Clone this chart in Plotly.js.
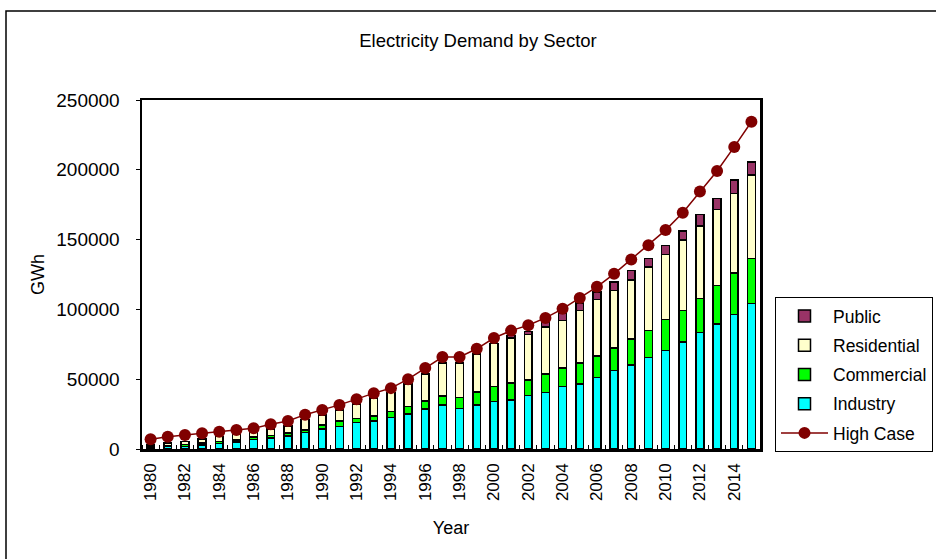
<!DOCTYPE html>
<html>
<head>
<meta charset="utf-8">
<script src="https://cdn.plot.ly/plotly-3.0.1.min.js"></script>
<style>html,body{margin:0;padding:0;background:#fff;}#chart{width:936px;height:559px;}</style>
</head>
<body>
<div id="chart"></div>
<script>
var years = [1980,1981,1982,1983,1984,1985,1986,1987,1988,1989,1990,1991,1992,1993,1994,1995,1996,1997,1998,1999,2000,2001,2002,2003,2004,2005,2006,2007,2008,2009,2010,2011,2012,2013,2014,2015];
var industry = [1000,1700,1900,3000,3800,5000,6800,8000,9300,11700,14400,16000,18900,20100,22500,25100,28700,31600,29000,31600,34000,35200,38300,40500,44800,46700,51200,56300,60300,65600,70600,76700,83600,89600,96300,104200];
var commercial = [500,700,1200,1200,1500,1500,1800,1800,2000,1900,2800,4100,3100,3600,4300,5300,5800,6500,7900,9100,10800,12000,11300,13200,13200,14900,15600,16000,18500,19400,22100,22400,24200,27700,29900,32300];
var residential = [1500,1800,2300,2800,3500,3800,4000,4600,5300,7700,7200,7900,10300,12700,13700,16100,19200,23500,24700,27300,30600,32300,32300,33700,34200,37500,40200,41200,42400,45200,46700,50500,51900,54400,56800,59600];
var publicSector = [0,0,0,0,0,0,0,0,0,0,0,0,0,0,0,0,0,0,0,0,0,1700,2400,4100,5300,5600,5300,6300,6500,6300,6400,6500,8200,7900,9700,9600];
var highCase = [7000,8800,10000,11200,12400,13600,14800,17700,20100,24600,28000,31600,35700,40000,43600,50000,58000,65900,65900,71800,79500,84800,88600,93900,100400,108200,116200,125500,135800,146000,156800,169300,184400,199200,216400,234400];
var yTicks = [0,50000,100000,150000,200000,250000];
var xTickYears = [1980,1982,1984,1986,1988,1990,1992,1994,1996,1998,2000,2002,2004,2006,2008,2010,2012,2014];

var FONT = 'Liberation Sans, Arial, sans-serif';
var edge = {color:'#000000', width:1.5};
function barTrace(name, y, color, rank){
  return {type:'bar', name:name, x:years, y:y, width:0.46,
    marker:{color:color, line:edge}, legendrank:rank, legendgroup:name,
    hoverinfo:'x+y+name'};
}
var traces = [
  barTrace('Industry', industry, '#00FFFF', 4),
  barTrace('Commercial', commercial, '#00FF00', 3),
  barTrace('Residential', residential, '#FFFFCC', 2),
  barTrace('Public', publicSector, '#993366', 1),
  {type:'scatter', mode:'lines+markers', name:'High Case', x:years, y:highCase,
   line:{color:'#800000', width:1.5}, marker:{color:'#800000', size:12},
   legendrank:5, legendgroup:'High Case'}
];

var plotL = 142, plotR = 760, plotT = 100, plotB = 449, W = 936, H = 559;
var pw = plotR - plotL, ph = plotB - plotT;
function px2x(p){ return (p - plotL) / pw; }
function py2y(p){ return (plotB - p) / ph; }

var layout = {
  width: W, height: H,
  margin:{l:plotL, r:W-plotR, t:plotT, b:H-plotB, pad:0, autoexpand:false},
  paper_bgcolor:'#ffffff', plot_bgcolor:'#ffffff',
  font:{family:FONT, color:'#000000', size:18},
  barmode:'stack',
  showlegend:true,
  title:{text:'Electricity Demand by Sector', font:{family:FONT, size:18.5, color:'#000'},
    x:478/W, xref:'container', xanchor:'center', y:1-41/H, yref:'container', yanchor:'middle'},
  xaxis:{type:'linear', range:[1979.5, 2015.5], tickmode:'array', tickvals:xTickYears,
    ticktext:xTickYears.map(String), tickangle:-90, ticks:'', ticklabelstandoff:5,
    tickfont:{family:FONT, size:17},
    minor:{tick0:1979.5, dtick:1, ticks:'inside', ticklen:4, tickwidth:1, tickcolor:'#000', showgrid:false},
    showgrid:false, zeroline:false, showline:true, mirror:true, linecolor:'#000', linewidth:2.5,
    title:{text:'Year', font:{family:FONT, size:18}, standoff:22}, automargin:false},
  yaxis:{range:[0,250000], tickmode:'array', tickvals:yTicks, ticktext:yTicks.map(String),
    ticks:'outside', ticklen:4, tickwidth:1, tickcolor:'#000', ticklabelstandoff:12,
    tickfont:{family:FONT, size:19},
    showgrid:false, zeroline:false, showline:true, mirror:true, linecolor:'#000', linewidth:2.5,
    title:{text:'GWh', font:{family:FONT, size:18}, standoff:7}, automargin:false},
  legend:{xref:'container', yref:'container', x:775/W, xanchor:'left', y:1-297/H, yanchor:'top', orientation:'v',
    traceorder:'grouped', tracegroupgap:3.5, itemwidth:47,
    font:{family:FONT, size:17.5, color:'#000'}, bgcolor:'#ffffff', bordercolor:'#000000', borderwidth:1},
  shapes:[
    {type:'rect', xref:'paper', yref:'paper', x0:px2x(6), x1:px2x(960), y0:py2y(580), y1:py2y(11),
     line:{color:'#000', width:1.5}, fillcolor:'rgba(0,0,0,0)', layer:'below'}
  ]
};

Plotly.newPlot('chart', traces, layout, {displayModeBar:false, staticPlot:true});
</script>
</body>
</html>
